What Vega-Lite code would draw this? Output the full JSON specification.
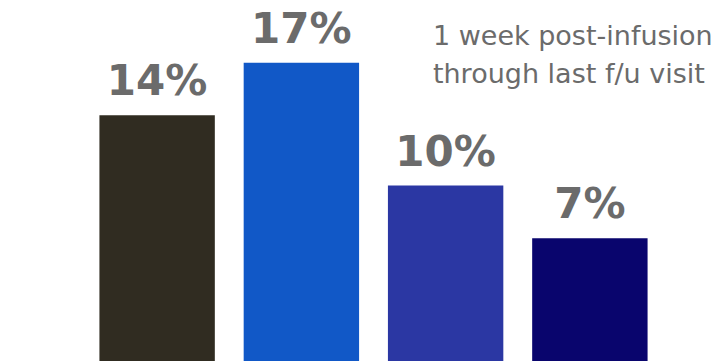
{
  "$schema": "https://vega.github.io/schema/vega-lite/v6.json",
  "autosize": "none",
  "width": 577,
  "height": 361,
  "padding": {"left": 85, "right": 61, "top": 0, "bottom": 0},
  "background": "white",
  "config": {"view": {"stroke": null}},
  "datasets": {
    "bars": [
      {"group": "A", "value": 14, "label": "14%"},
      {"group": "B", "value": 17, "label": "17%"},
      {"group": "C", "value": 10, "label": "10%"},
      {"group": "D", "value": 7, "label": "7%"}
    ],
    "note": [
      {"group": "C", "y": 18.0, "text": "1 week post-infusion\nthrough last f/u visit"}
    ]
  },
  "layer": [
    {
      "data": {"name": "bars"},
      "mark": {"type": "bar"},
      "encoding": {
        "x": {"field": "group", "type": "nominal", "sort": null, "axis": null,
              "scale": {"paddingInner": 0.2, "paddingOuter": 0.1}},
        "y": {"field": "value", "type": "quantitative", "axis": null,
              "scale": {"domain": [0, 20.57], "nice": false}},
        "color": {"field": "group", "type": "nominal", "legend": null,
                  "scale": {"domain": ["A", "B", "C", "D"], "range": ["#302c21", "#1158c7", "#2b37a3", "#09056d"]}}
      }
    },
    {
      "data": {"name": "bars"},
      "mark": {"type": "text", "font": "DejaVu Sans", "fontWeight": "bold", "fontSize": 42,
               "color": "#6b6b6b", "baseline": "alphabetic", "align": "center", "dy": -20},
      "encoding": {
        "x": {"field": "group", "type": "nominal", "sort": null},
        "y": {"field": "value", "type": "quantitative"},
        "text": {"field": "label"}
      }
    },
    {
      "data": {"name": "note"},
      "mark": {"type": "text", "font": "DejaVu Sans", "fontSize": 27, "color": "#6b6b6b",
               "align": "left", "baseline": "alphabetic", "lineBreak": "\n", "lineHeight": 38, "dx": 45},
      "encoding": {
        "x": {"field": "group", "type": "nominal", "bandPosition": 0},
        "y": {"field": "y", "type": "quantitative"},
        "text": {"field": "text"}
      }
    }
  ]
}
